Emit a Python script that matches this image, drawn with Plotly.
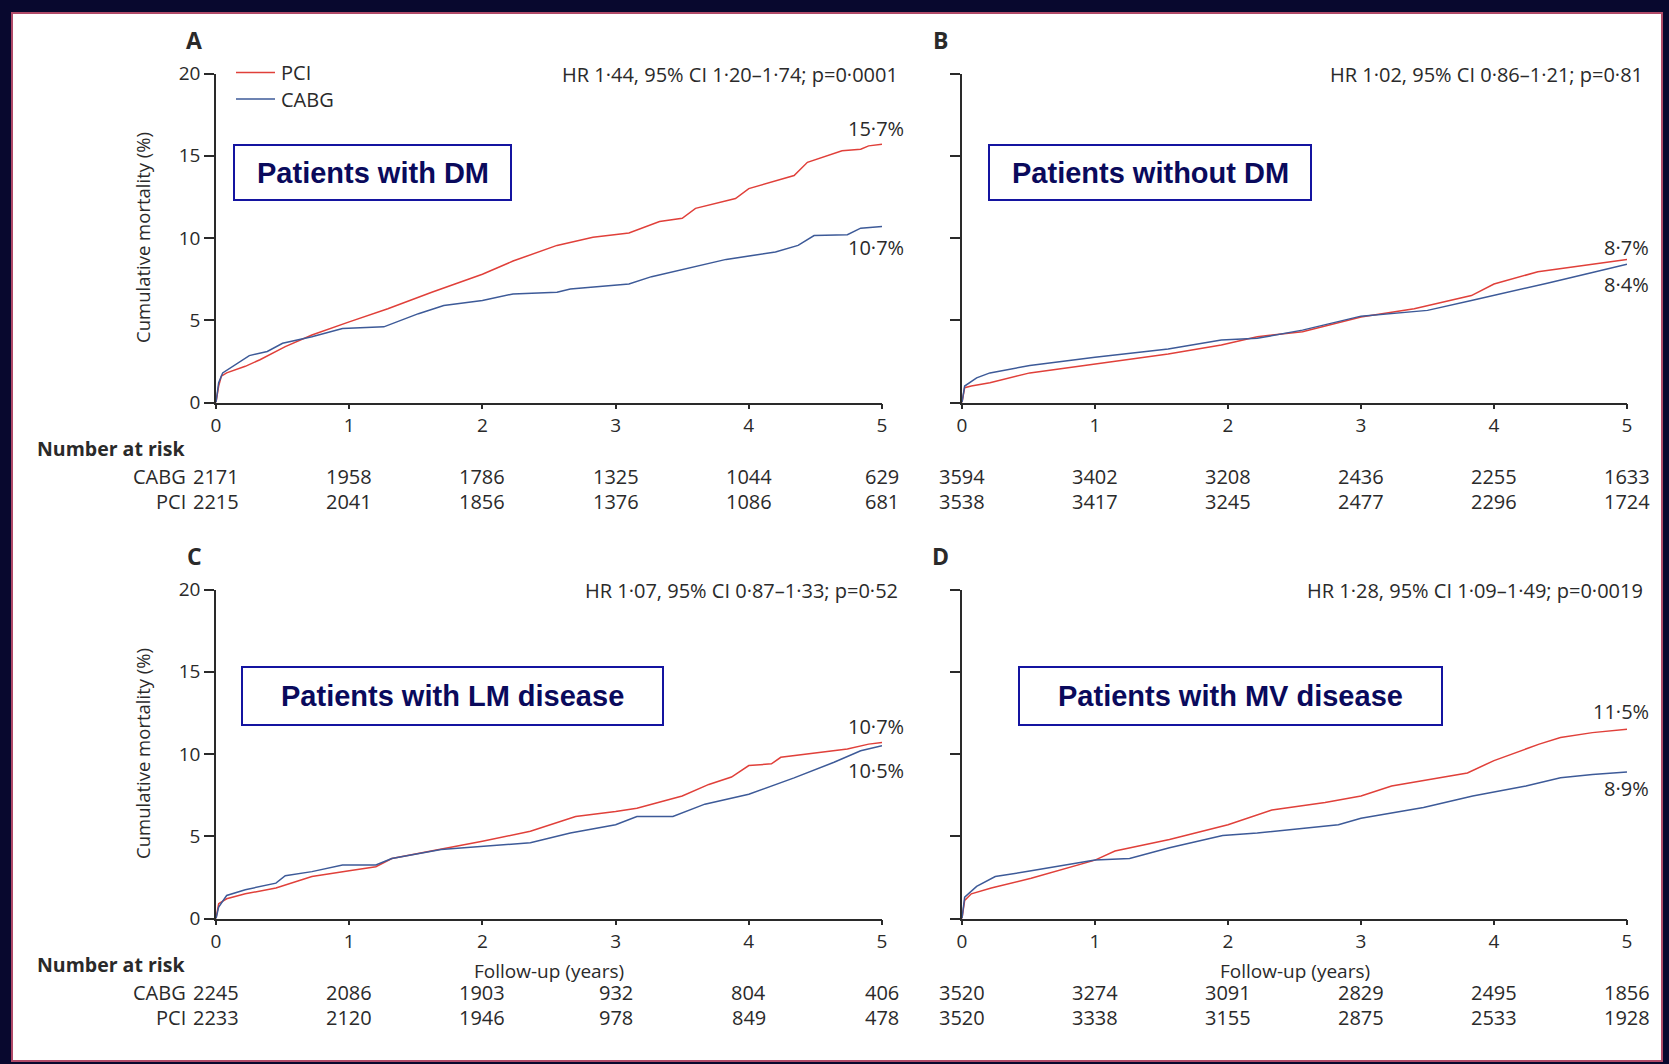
import plotly.graph_objects as go

# ---- Kaplan-Meier estimates of cumulative mortality (%) by follow-up year ----
dm_pci_t = [0, 0.02, 0.04, 0.08, 0.22, 0.33, 0.52, 0.72, 1.0, 1.29, 1.62, 2.0, 2.23, 2.56, 2.83, 3.1, 3.33, 3.5, 3.6, 3.9, 4.0, 4.34, 4.44, 4.7, 4.84, 4.9, 5.0]
dm_pci = [0, 1.0, 1.6, 1.8, 2.2, 2.6, 3.4, 4.1, 4.9, 5.7, 6.7, 7.8, 8.6, 9.55, 10.05, 10.3, 11.0, 11.2, 11.8, 12.4, 13.0, 13.8, 14.6, 15.3, 15.4, 15.6, 15.7]
dm_cabg_t = [0, 0.02, 0.05, 0.15, 0.25, 0.385, 0.5, 0.72, 0.95, 1.26, 1.52, 1.71, 2.0, 2.23, 2.56, 2.66, 3.1, 3.27, 3.5, 3.83, 4.2, 4.37, 4.49, 4.74, 4.84, 5.0]
dm_cabg = [0, 1.2, 1.8, 2.3, 2.85, 3.1, 3.6, 4.0, 4.5, 4.6, 5.4, 5.9, 6.2, 6.6, 6.7, 6.9, 7.2, 7.65, 8.1, 8.7, 9.15, 9.55, 10.15, 10.2, 10.6, 10.7]

nodm_pci_t = [0, 0.02, 0.07, 0.21, 0.51, 1.0, 1.55, 1.95, 2.22, 2.56, 3.0, 3.4, 3.83, 4.0, 4.33, 4.74, 5.0]
nodm_pci = [0, 0.9, 1.0, 1.2, 1.8, 2.35, 2.95, 3.5, 4.0, 4.3, 5.2, 5.7, 6.5, 7.2, 7.95, 8.4, 8.7]
nodm_cabg_t = [0, 0.02, 0.11, 0.21, 0.51, 1.0, 1.55, 1.95, 2.22, 2.56, 3.0, 3.5, 3.83, 4.0, 4.4, 4.74, 5.0]
nodm_cabg = [0, 1.0, 1.5, 1.8, 2.25, 2.75, 3.25, 3.8, 3.9, 4.4, 5.25, 5.6, 6.2, 6.5, 7.25, 7.9, 8.4]

lm_pci_t = [0, 0.02, 0.08, 0.22, 0.45, 0.72, 1.0, 1.2, 1.32, 1.69, 2.0, 2.36, 2.7, 3.0, 3.16, 3.5, 3.7, 3.87, 4.0, 4.17, 4.24, 4.74, 4.9, 5.0]
lm_pci = [0, 0.9, 1.2, 1.5, 1.85, 2.55, 2.9, 3.15, 3.65, 4.2, 4.7, 5.3, 6.2, 6.5, 6.7, 7.45, 8.15, 8.6, 9.3, 9.4, 9.8, 10.3, 10.6, 10.7]
lm_cabg_t = [0, 0.02, 0.08, 0.22, 0.45, 0.52, 0.72, 0.95, 1.2, 1.32, 1.69, 2.0, 2.36, 2.66, 3.0, 3.16, 3.43, 3.67, 4.0, 4.34, 4.64, 4.84, 5.0]
lm_cabg = [0, 0.7, 1.4, 1.75, 2.15, 2.6, 2.85, 3.25, 3.25, 3.65, 4.2, 4.4, 4.6, 5.2, 5.7, 6.2, 6.2, 6.95, 7.55, 8.55, 9.5, 10.2, 10.5]

mv_pci_t = [0, 0.02, 0.07, 0.22, 0.52, 1.0, 1.15, 1.56, 2.0, 2.33, 2.73, 3.0, 3.23, 3.57, 3.8, 4.0, 4.34, 4.5, 4.74, 5.0]
mv_pci = [0, 1.1, 1.5, 1.85, 2.45, 3.55, 4.1, 4.8, 5.7, 6.6, 7.05, 7.45, 8.05, 8.55, 8.85, 9.6, 10.6, 11.0, 11.3, 11.5]
mv_cabg_t = [0, 0.02, 0.11, 0.25, 0.52, 1.0, 1.26, 1.56, 1.96, 2.22, 2.83, 3.0, 3.47, 3.84, 4.24, 4.5, 4.74, 5.0]
mv_cabg = [0, 1.3, 1.95, 2.55, 2.9, 3.55, 3.65, 4.3, 5.05, 5.2, 5.7, 6.1, 6.75, 7.45, 8.05, 8.55, 8.75, 8.9]

# ---- Numbers at risk at years 0..5 ----
years = [0, 1, 2, 3, 4, 5]
risk_dm_cabg = [2171, 1958, 1786, 1325, 1044, 629]
risk_dm_pci = [2215, 2041, 1856, 1376, 1086, 681]
risk_nodm_cabg = [3594, 3402, 3208, 2436, 2255, 1633]
risk_nodm_pci = [3538, 3417, 3245, 2477, 2296, 1724]
risk_lm_cabg = [2245, 2086, 1903, 932, 804, 406]
risk_lm_pci = [2233, 2120, 1946, 978, 849, 478]
risk_mv_cabg = [3520, 3274, 3091, 2829, 2495, 1856]
risk_mv_pci = [3520, 3338, 3155, 2875, 2533, 1928]

# ---- Text ----
panel_letters = ["A", "B", "C", "D"]
panel_titles = ["Patients with DM", "Patients without DM",
                "Patients with LM disease", "Patients with MV disease"]
hr_texts = ["HR 1·44, 95% CI 1·20–1·74; p=0·0001",
            "HR 1·02, 95% CI 0·86–1·21; p=0·81",
            "HR 1·07, 95% CI 0·87–1·33; p=0·52",
            "HR 1·28, 95% CI 1·09–1·49; p=0·0019"]
end_pci = ["15·7%", "8·7%", "10·7%", "11·5%"]
end_cabg = ["10·7%", "8·4%", "10·5%", "8·9%"]
y_ticks = [0, 5, 10, 15, 20]
legend_names = ["PCI", "CABG"]

# ---- Page geometry (pixels) ----
W, H = 1669, 1064
NAVY = "#08082e"
RED = "#e0403a"
BLUE = "#3d5a98"
INK = "#2a2a2a"
BOXINK = "#0a0a5c"
BOXLINE = "#1414a0"
FONT = "Open Sans"
FS = 20
TICK_FS = 19


def px(x):
    return x / W


def py(y):
    return 1 - y / H


col_x = [(216, 882), (962, 1627)]
row_y = [(73.5, 402.5), (589.5, 918.5)]

fig = go.Figure()

series = [
    (dm_pci_t, dm_pci, dm_cabg_t, dm_cabg),
    (nodm_pci_t, nodm_pci, nodm_cabg_t, nodm_cabg),
    (lm_pci_t, lm_pci, lm_cabg_t, lm_cabg),
    (mv_pci_t, mv_pci, mv_cabg_t, mv_cabg),
]
risks = [
    (risk_dm_cabg, risk_dm_pci),
    (risk_nodm_cabg, risk_nodm_pci),
    (risk_lm_cabg, risk_lm_pci),
    (risk_mv_cabg, risk_mv_pci),
]

annotations = []
shapes = []

# White page with a thin rose border on the navy background
shapes.append(dict(type="rect", xref="paper", yref="paper",
                   x0=px(12), x1=px(1662), y0=py(1061), y1=py(13),
                   fillcolor="white", line=dict(color="#b04a68", width=2),
                   layer="below"))

for i in range(4):
    r, c = divmod(i, 2)
    n = i + 1
    xname = "x" if n == 1 else f"x{n}"
    yname = "y" if n == 1 else f"y{n}"
    xkey = "xaxis" if n == 1 else f"xaxis{n}"
    ykey = "yaxis" if n == 1 else f"yaxis{n}"
    x0, x1 = col_x[c]
    y0, y1 = row_y[r]

    fig.layout[xkey] = dict(
        domain=[px(x0), px(x1)], anchor=yname, range=[0, 5],
        tickvals=years, ticks="outside", ticklen=5, tickwidth=1.5,
        tickcolor=INK, showline=True, linecolor=INK, linewidth=1.5,
        showgrid=False, zeroline=False, automargin=False,
        tickfont=dict(family=FONT, size=TICK_FS, color=INK),
    )
    fig.layout[ykey] = dict(
        domain=[py(y1), py(y0)], anchor=xname, range=[0, 20],
        tickvals=y_ticks, ticks="outside", ticklen=10, tickwidth=1.5,
        tickcolor=INK, showline=True, linecolor=INK, linewidth=1.5,
        showgrid=False, zeroline=False, showticklabels=(c == 0),
        automargin=False,
        tickfont=dict(family=FONT, size=TICK_FS, color=INK),
    )

    pt, pv, ct, cv = series[i]
    fig.add_trace(go.Scatter(x=pt, y=pv, mode="lines", name=legend_names[0],
                             line=dict(color=RED, width=1.5),
                             xaxis=xname, yaxis=yname, showlegend=False))
    fig.add_trace(go.Scatter(x=ct, y=cv, mode="lines", name=legend_names[1],
                             line=dict(color=BLUE, width=1.5),
                             xaxis=xname, yaxis=yname, showlegend=False))

    # Panel letter
    annotations.append(dict(xref="paper", yref="paper",
                            x=px(x0 - 22), y=py(y0 - 34),
                            text=f"<b>{panel_letters[i]}</b>", showarrow=False,
                            xanchor="center", yanchor="middle",
                            font=dict(family=FONT, size=23, color=INK)))
    # Hazard ratio
    annotations.append(dict(xref="paper", yref="paper",
                            x=px(x1 + 18), y=py(y0 + 1),
                            text=hr_texts[i], showarrow=False,
                            xanchor="right", yanchor="middle",
                            font=dict(family=FONT, size=FS, color=INK)))

    # Subgroup title box
    box_x = [(234, 511), (989, 1311), (242, 663), (1019, 1442)][i]
    box_y = [(145, 200), (145, 200), (667, 725), (667, 725)][i]
    shapes.append(dict(type="rect", xref="paper", yref="paper",
                       x0=px(box_x[0]), x1=px(box_x[1]),
                       y0=py(box_y[1]), y1=py(box_y[0]),
                       fillcolor="white", line=dict(color=BOXLINE, width=2)))
    annotations.append(dict(xref="paper", yref="paper",
                            x=px((box_x[0] + box_x[1]) / 2),
                            y=py((box_y[0] + box_y[1]) / 2),
                            text=f"<b>{panel_titles[i]}</b>", showarrow=False,
                            xanchor="center", yanchor="middle",
                            font=dict(family="Liberation Sans", size=29,
                                      color=BOXINK)))

    # Numbers at risk
    cabg_r, pci_r = risks[i]
    for yr, a, b in zip(years, cabg_r, pci_r):
        annotations.append(dict(xref=xname, yref="paper", x=yr,
                                y=py(y1 + 74), text=str(a), showarrow=False,
                                xanchor="center", yanchor="middle",
                                font=dict(family=FONT, size=FS, color=INK)))
        annotations.append(dict(xref=xname, yref="paper", x=yr,
                                y=py(y1 + 99), text=str(b), showarrow=False,
                                xanchor="center", yanchor="middle",
                                font=dict(family=FONT, size=FS, color=INK)))
    if c == 0:
        annotations.append(dict(xref="paper", yref="paper", x=px(35),
                                y=py(y1 + 46), text="<b>Number at risk</b>",
                                showarrow=False, xanchor="left",
                                yanchor="middle",
                                font=dict(family=FONT, size=19.5, color=INK)))
        for lab, off in (("CABG", 74), ("PCI", 99)):
            annotations.append(dict(xref="paper", yref="paper", x=px(188),
                                    y=py(y1 + off), text=lab,
                                    showarrow=False, xanchor="right",
                                    yanchor="middle",
                                    font=dict(family=FONT, size=FS,
                                              color=INK)))
        # Y axis title
        annotations.append(dict(xref="paper", yref="paper", x=px(142),
                                y=py((y0 + y1) / 2),
                                text="Cumulative mortality (%)",
                                textangle=-90, showarrow=False,
                                xanchor="center", yanchor="middle",
                                font=dict(family=FONT, size=18.5, color=INK)))
    if r == 1:
        annotations.append(dict(xref="paper", yref="paper",
                                x=px((x0 + x1) / 2), y=py(y1 + 52),
                                text="Follow-up (years)", showarrow=False,
                                xanchor="center", yanchor="middle",
                                font=dict(family=FONT, size=19, color=INK)))

# End-of-curve percentages
end_pos = [(129, 248), (247, 285), (726, 770), (711, 788)]
for i in range(4):
    n = i + 1
    xname = "x" if n == 1 else f"x{n}"
    for txt, ypix in ((end_pci[i], end_pos[i][0]), (end_cabg[i], end_pos[i][1])):
        annotations.append(dict(xref=xname, yref="paper", x=5, xshift=24,
                                y=py(ypix), text=txt, showarrow=False,
                                xanchor="right", yanchor="middle",
                                font=dict(family=FONT, size=FS, color=INK)))

# Legend drawn as line samples with labels in panel A
for name, colour, ypix in ((legend_names[0], RED, 72.5), (legend_names[1], BLUE, 99)):
    shapes.append(dict(type="line", xref="paper", yref="paper",
                       x0=px(236), x1=px(275), y0=py(ypix), y1=py(ypix),
                       line=dict(color=colour, width=1.5)))
    annotations.append(dict(xref="paper", yref="paper", x=px(279),
                            y=py(ypix), text=name, showarrow=False,
                            xanchor="left", yanchor="middle",
                            font=dict(family=FONT, size=FS, color=INK)))

fig.update_layout(
    width=W, height=H,
    margin=dict(l=0, r=0, t=0, b=0, pad=0, autoexpand=False),
    paper_bgcolor=NAVY, plot_bgcolor="white",
    annotations=annotations, shapes=shapes,
    showlegend=False,
)

fig.write_html("out.html")
